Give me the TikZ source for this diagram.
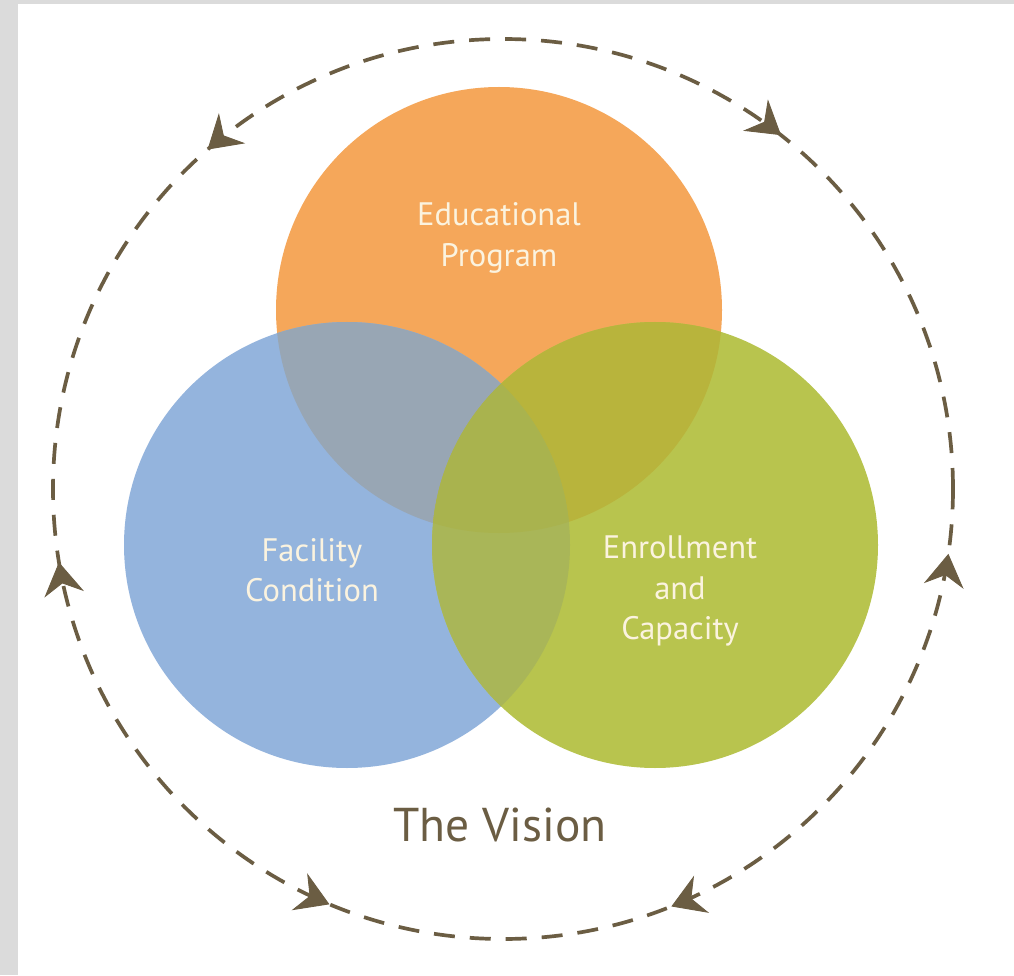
\documentclass[tikz,border=0pt]{standalone}
\usepackage{fontspec}
\setmainfont{PT Sans}
\usetikzlibrary{arrows.meta,decorations.markings}

\definecolor{progorange}{HTML}{F5A75A}
\definecolor{facblue}{HTML}{94B4DD}
\definecolor{enrgreen}{HTML}{B8C44E}
\definecolor{progfac}{HTML}{98A6B4}
\definecolor{progenr}{HTML}{B8B43C}
\definecolor{facenr}{HTML}{A9B658}
\definecolor{allthree}{HTML}{A9B34E}
\definecolor{loopbrown}{HTML}{6B5D43}
\definecolor{labelcream}{HTML}{FBF3DF}

\begin{document}
\begin{tikzpicture}[x=0.02cm, y=0.02cm,
  >={Stealth[length=6.5mm, width=8mm, inset=2.2mm, line width=0.5pt]},
  label/.style={text=labelcream, align=center, font=\fontsize{18.5}{23}\selectfont}]
  % frame
  \fill[black!14] (0,0) rectangle (1014,975);
  \fill[white] (18,0) rectangle (1014,971);

  \coordinate (prog) at (499,665);
  \coordinate (fac) at (347,430);
  \coordinate (enr) at (655,430);
  \coordinate (hub) at (503,486);

  % the three circles and their overlaps
  \fill[progorange] (prog) circle (223);
  \fill[facblue] (fac) circle (223);
  \fill[enrgreen] (enr) circle (223);
  \begin{scope}
    \clip (prog) circle (223);
    \fill[progfac] (fac) circle (223);
    \fill[progenr] (enr) circle (223);
  \end{scope}
  \begin{scope}
    \clip (fac) circle (223);
    \fill[facenr] (enr) circle (223);
    \clip (prog) circle (223);
    \fill[allthree] (enr) circle (223);
  \end{scope}

  \node[label] (educ) at (499,737) {Educational\\Program};
  \node[label] (facility) at (312,405) {Facility\\Condition};
  \node[label] (enroll) at (680,384) {Enrollment\\and\\Capacity};
  \node[text=loopbrown, font=\fontsize{27}{32}\selectfont] (vision) at (500,150) {The Vision};

  % dashed loop round everything
  \draw[loopbrown, line width=2.1pt, dash pattern=on 0.42cm off 0.3cm,
    postaction={decorate}, decoration={markings,
      mark=at position 0.144 with {\arrowreversed{>}},
      mark=at position 0.364 with {\arrow{>}},
      mark=at position 0.526 with {\arrowreversed{>}},
      mark=at position 0.687 with {\arrow{>}},
      mark=at position 0.811 with {\arrowreversed{>}},
      mark=at position 0.977 with {\arrow{>}}}]
    (hub) circle (450);
\end{tikzpicture}
\end{document}
